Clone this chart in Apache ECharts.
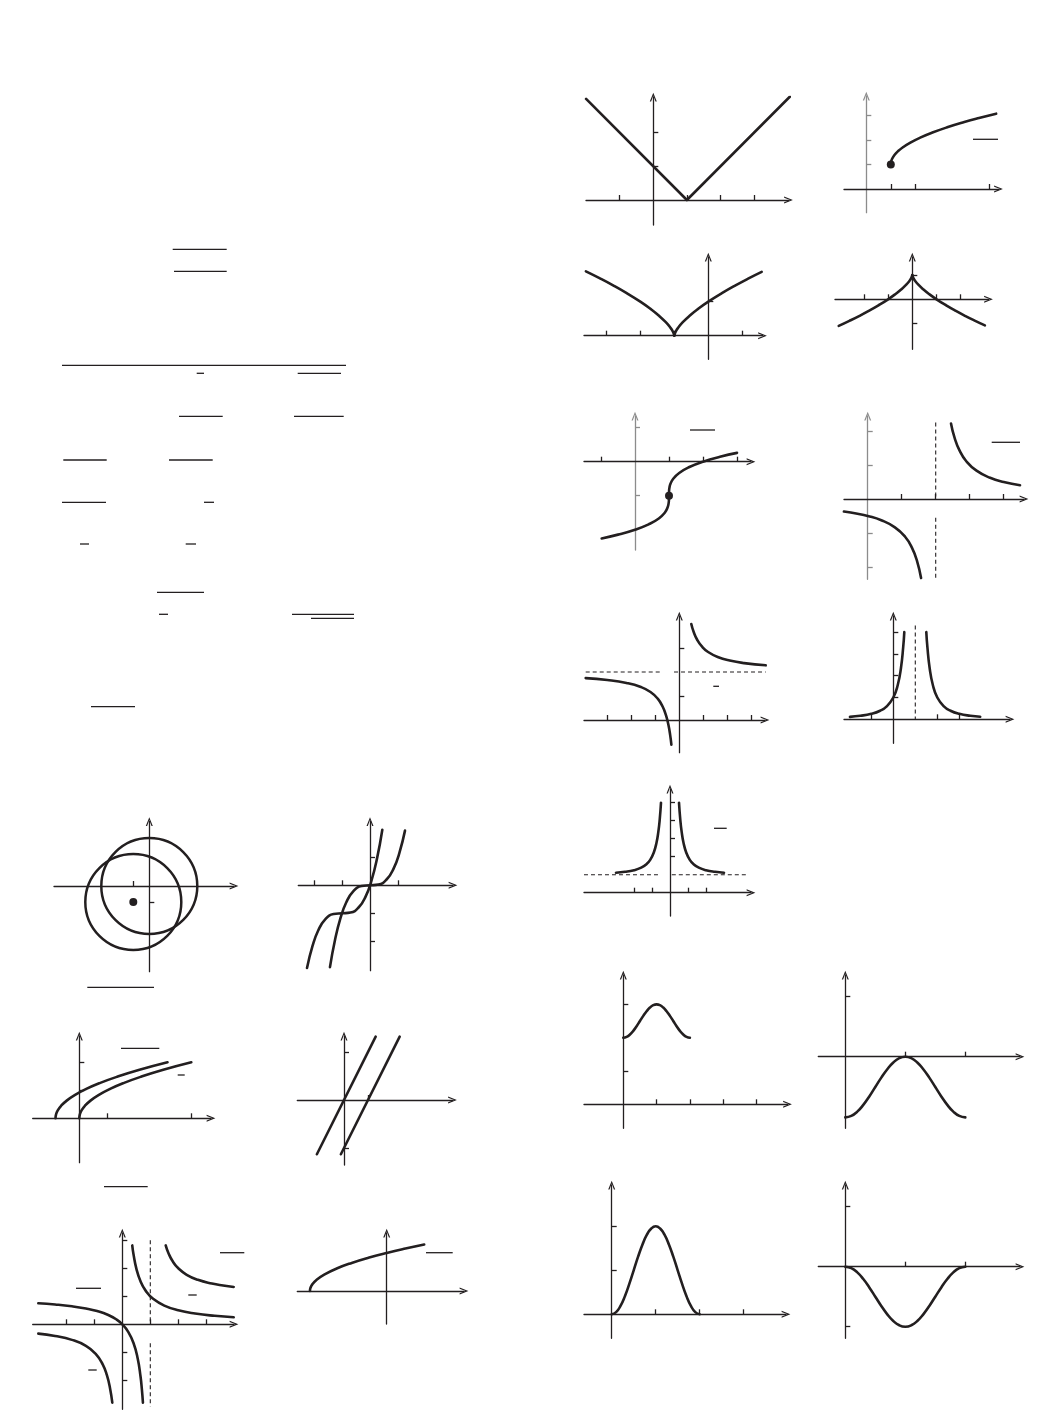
<!DOCTYPE html>
<html><head><meta charset="utf-8">
<script src="https://cdn.jsdelivr.net/npm/echarts@6/dist/echarts.min.js"></script>
<style>html,body{margin:0;padding:0;background:#fff}#c{width:1056px;height:1410px}</style>
</head><body><div id="c"></div>
<script>
// ---------- values ----------
// A: |x-1|
const vAbs = [[-2,3],[1,0],[4.07,3.07]];
// B: shifted square root with start dot
const sqrtShift = [[1,1],[1.01,1.1],[1.05,1.224],[1.15,1.387],[1.3,1.548],[1.5,1.707],[1.8,1.894],[2.2,2.095],[2.7,2.304],[3.3,2.517],[4,2.732],[4.6,2.897],[5.3,3.074]];
const dotB = [[1,1]];
// C: cusp at (-1,0)
const cuspLeft = [[-3.6,1.891],[-3.2,1.692],[-2.8,1.48],[-2.4,1.251],[-2,1],[-1.7,0.788],[-1.45,0.587],[-1.25,0.397],[-1.12,0.243],[-1.04,0.117],[-1,0]];
const cuspRight = [[-1,0],[-0.96,0.117],[-0.88,0.243],[-0.75,0.397],[-0.55,0.587],[-0.3,0.788],[0,1],[0.4,1.251],[0.8,1.48],[1.2,1.692],[1.57,1.876]];
// D: cusp peak at (0,1)
const peakLeft = [[-3.04,-1.099],[-2.6,-0.891],[-2.2,-0.692],[-1.8,-0.48],[-1.4,-0.251],[-1,0],[-0.7,0.212],[-0.45,0.413],[-0.25,0.603],[-0.12,0.757],[-0.04,0.883],[0,1]];
const peakRight = [[0,1],[0.04,0.883],[0.12,0.757],[0.25,0.603],[0.45,0.413],[0.7,0.212],[1,0],[1.4,-0.251],[1.8,-0.48],[2.2,-0.692],[2.6,-0.891],[3,-1.08]];
// E: cube root through (1,-1)
const cubeRoot = [[-0.98,-2.256],[-0.5,-2.145],[0,-2],[0.4,-1.843],[0.7,-1.669],[0.88,-1.493],[0.96,-1.342],[0.99,-1.215],[0.998,-1.126],[1,-1],[1.002,-0.874],[1.01,-0.785],[1.04,-0.658],[1.12,-0.507],[1.3,-0.331],[1.6,-0.157],[2,0],[2.5,0.145],[3,0.26]];
const dotE = [[1,-1]];
// F: hyperbola, vertical asymptote x=2
const hypFLeft = [[-0.7,-0.37],[-0.3,-0.435],[0,-0.5],[0.4,-0.625],[0.8,-0.833],[1.1,-1.111],[1.3,-1.429],[1.45,-1.818],[1.57,-2.326]];
const hypFRight = [[2.45,2.222],[2.55,1.818],[2.7,1.429],[2.9,1.111],[3.2,0.833],[3.6,0.625],[4,0.5],[4.48,0.403]];
const asymF = [[[2,2.25],[2,0]],[[2,-0.55],[2,-2.35]]];
// G: hyperbola, horizontal asymptote y=2
const hypGLeft = [[-3.9,1.744],[-3,1.667],[-2.2,1.545],[-1.6,1.375],[-1.2,1.167],[-0.9,0.889],[-0.7,0.571],[-0.55,0.182],[-0.45,-0.222],[-0.38,-0.632],[-0.33,-1.03]];
const hypGRight = [[0.5,4],[0.6,3.667],[0.75,3.333],[0.95,3.053],[1.2,2.833],[1.6,2.625],[2.1,2.476],[2.7,2.37],[3.6,2.278]];
const asymG = [[[-3.9,2],[-0.73,2]],[[-0.22,2],[3.6,2]]];
// H: inverse square about x=1
const invSqLeft = [[-1.97,0.113],[-1.5,0.16],[-1,0.25],[-0.6,0.391],[-0.3,0.592],[0,1],[0.2,1.563],[0.35,2.367],[0.45,3.306],[0.5,4]];
const invSqRight = [[1.5,4],[1.55,3.306],[1.65,2.367],[1.8,1.563],[2,1],[2.3,0.592],[2.6,0.391],[3,0.25],[3.5,0.16],[3.95,0.115]];
const asymH = [[[1,4.3],[1,0]]];
// I: inverse square shifted up, asymptote y=1
const bellLeft = [[-3,1.111],[-2.5,1.16],[-2,1.25],[-1.6,1.391],[-1.3,1.592],[-1.1,1.826],[-0.9,2.235],[-0.75,2.778],[-0.65,3.367],[-0.57,4.078],[-0.5,5]];
const bellRight = [[0.5,5],[0.57,4.078],[0.65,3.367],[0.75,2.778],[0.9,2.235],[1.1,1.826],[1.3,1.592],[1.6,1.391],[2,1.25],[2.5,1.16],[3,1.111]];
const asymI = [[[-4.78,1],[-0.5,1]],[[0.1,1],[4.35,1]]];
// J: two circles [cx, cy, r] and centre dot
const circles = [[0,0,3],[-1,-1,3]];
const dotJ = [[-1,-1]];
// K: two cubics
const cubeA = [[-1.43,-2.924],[-1.25,-1.953],[-1.05,-1.158],[-0.85,-0.614],[-0.6,-0.216],[-0.3,-0.027],[0,0],[0.3,0.027],[0.6,0.216],[0.85,0.614],[1.05,1.158],[1.25,1.953]];
const cubeB = [[-2.25,-2.953],[-2.05,-2.158],[-1.85,-1.614],[-1.6,-1.216],[-1.3,-1.027],[-1,-1],[-0.7,-0.973],[-0.4,-0.784],[-0.15,-0.386],[0.05,0.158],[0.25,0.953],[0.44,1.986]];
// L: two square roots
const rootA = [[0,0],[0.02,0.141],[0.08,0.283],[0.2,0.447],[0.4,0.632],[0.7,0.837],[1.1,1.049],[1.6,1.265],[2.2,1.483],[3,1.732],[4,2]];
const rootB = [[-0.85,0],[-0.83,0.141],[-0.77,0.283],[-0.65,0.447],[-0.45,0.632],[-0.15,0.837],[0.25,1.049],[0.75,1.265],[1.35,1.483],[2.15,1.732],[3.15,2]];
// M: two parallel lines
const lineA = [[-1.13,-2.26],[1.32,2.64]];
const lineB = [[-0.13,-2.26],[2.32,2.64]];
// N: reciprocal and ratio curves, asymptote x=1
const recipL = [[-3,-0.333],[-2.4,-0.417],[-1.8,-0.556],[-1.3,-0.769],[-0.95,-1.053],[-0.7,-1.429],[-0.55,-1.818],[-0.44,-2.273],[-0.357,-2.8]];
const recipR = [[0.355,2.817],[0.4,2.5],[0.5,2],[0.65,1.538],[0.85,1.176],[1.1,0.909],[1.5,0.667],[2,0.5],[2.6,0.385],[3.3,0.303],[3.98,0.251]];
const ratioL = [[-3,0.75],[-2.4,0.706],[-1.8,0.643],[-1.3,0.565],[-0.9,0.474],[-0.5,0.333],[-0.2,0.167],[0,0],[0.2,-0.25],[0.4,-0.667],[0.55,-1.222],[0.65,-1.857],[0.7,-2.333],[0.737,-2.8]];
const ratioR = [[1.55,2.818],[1.65,2.538],[1.8,2.25],[2,2],[2.3,1.769],[2.7,1.588],[3.2,1.455],[3.6,1.385],[3.98,1.335]];
const asymN = [[[1,3],[1,0]],[[1,-0.68],[1,-2.94]]];
// O: square root from the left
const rootO = [[-3.07,0],[-3.05,0.123],[-2.97,0.275],[-2.8,0.452],[-2.5,0.657],[-2,0.9],[-1.4,1.124],[-0.7,1.339],[0,1.524],[0.75,1.7],[1.5,1.86]];
// P-S: waves
const waveX = [0,0.1,0.2,0.3,0.4,0.5,0.6,0.7,0.8,0.9,1,1.1,1.2,1.3,1.4,1.5,1.6,1.7,1.8,1.9,2];
const waveP = [2,2.024,2.095,2.206,2.345,2.5,2.655,2.794,2.905,2.976,3,2.976,2.905,2.794,2.655,2.5,2.345,2.206,2.095,2.024,2];
const waveQ = [-1,-0.976,-0.905,-0.794,-0.655,-0.5,-0.345,-0.206,-0.095,-0.024,0,-0.024,-0.095,-0.206,-0.345,-0.5,-0.655,-0.794,-0.905,-0.976,-1];
const waveR = [0,0.049,0.191,0.412,0.691,1,1.309,1.588,1.809,1.951,2,1.951,1.809,1.588,1.309,1,0.691,0.412,0.191,0.049,0];
const waveS = [0,-0.024,-0.095,-0.206,-0.345,-0.5,-0.655,-0.794,-0.905,-0.976,-1,-0.976,-0.905,-0.794,-0.655,-0.5,-0.345,-0.206,-0.095,-0.024,0];

// tick positions per panel (A..S)
const xTicks = [[-1,1,2,3],[1,2,5],[-3,-2,-1,1],[-2,-1,1,2],[-1,1,2,3],[1,2,3,4],[-3,-2,-1,1,2,3],[-1,2,3],[-2,-1,1,2],[-1],[-2,-1,1],[1,4],[1],[-2,-1,1,2,3],[],[1,2,3,4],[1,2],[1,2,3],[1,2]];
const yTicks = [[1,2],[1,2,3],[1],[1,-1],[1,-1],[2,1,-1,-2],[1,3],[1,2,3,4],[2,3,4,5],[-1],[1,-1,-2],[1,2],[2,-2],[3,2,1,-1,-2],[],[1,3],[1],[1,2],[1,-1]];

// ---------- layout (pixels): originX, originY, unitX, unitY, left, right, bottom, top ----------
const layout = [
 [653.3,200,33.6,33.7,586,788.5,225,97],
 [866.3,189,24.5,24.5,844,998.5,212.7,96],
 [708.3,335.7,34,34,584,762.5,359.3,257],
 [912.3,299.3,24.2,24.2,835,988.5,349.3,257],
 [635,461.7,34,34,584,751,550,416],
 [867.7,499,34,34,844,1024,579.3,416],
 [679.3,720,24,24,584,765,752.7,616],
 [893.3,719.3,22,21.8,844,1010,743.3,616],
 [670,892.7,18,18,584,751,916,789],
 [149.3,886,16,16,54,234,971.7,821.5],
 [370,885.3,28,28,298.3,453,970.7,821.5],
 [79.3,1118.3,28,28,32.7,211,1162.7,1036],
 [344,1100,24,24,297.3,452.5,1165,1036],
 [122.3,1324.3,28,28,32.7,234,1409.3,1233],
 [386.7,1291,25,25,297.3,464,1324,1233],
 [623.3,1104.3,33.3,33.3,584,787.5,1128.3,975],
 [845.3,1056.7,60,60.7,818.3,1020,1128.3,975],
 [611.7,1314.3,44,44,584,786,1338.3,1185],
 [845.3,1266.7,60,60,818.3,1020,1338.3,1185]
];
const grayY = [1,4,5];
// rules left from stripped formulas: x1, x2, y
const rules = [
 [172.7,226.7,249.3],[174,226.7,271.3],[62,346,365.3],[196.7,204,373.3],[297.7,341,373.3],
 [179,222.7,416.3],[294,343.7,416.3],[63.3,106.7,460],[169,212.7,460],[62,106,502.3],[204,214,502.3],
 [80,89,544],[185.7,196,544],[157,204,592.3],[159,168,614.3],[292,354,614.3],[311,354,618.3],[91,135,706.7],
 [973,998,139.3],[690,715,430],[991.7,1020,442.3],[713.3,719,686.3],[714,726.7,828.3],
 [87.3,154,987.3],[121,159.3,1048.3],[177.7,184.7,1075],
 [104,147.7,1186.7],[76,101,1288.3],[88.3,96.7,1370],[188.3,196.7,1295],[220,244.3,1252.7],[426,452.7,1252.7]
];

const INK = '#231f20';
const GRAY = '#8c8c8c';
const arrowPath = 'path://M0,10 L4,0 L8,10 L6.5,10 L4,3.4 L1.5,10 Z';

const grids = [], xAxes = [], yAxes = [];
layout.forEach((L, i) => {
  const [ox, oy, ux, uy, left, right, bottom, top] = L;
  grids.push({left, top, width: right - left, height: bottom - top, containLabel: false, outerBoundsMode: 'none'});
  const mk = (dim, min, max, ticks, color) => ({
    gridIndex: i, type: 'value', min, max, position: dim === 'x' ? 'bottom' : 'left',
    axisLine: {show: true, onZero: true, symbol: ['none', arrowPath], symbolSize: [7, 9], lineStyle: {color, width: 1.3}},
    axisTick: {show: ticks.length > 0, inside: true, length: 5, customValues: ticks, lineStyle: {color, width: 1.3}},
    axisLabel: {show: false}, splitLine: {show: false}, splitArea: {show: false}
  });
  xAxes.push(mk('x', (left - ox) / ux, (right - ox) / ux, xTicks[i], INK));
  yAxes.push(mk('y', (oy - bottom) / uy, (oy - top) / uy, yTicks[i], grayY.includes(i) ? GRAY : INK));
});

const series = [];
function curve(i, data, smooth) {
  series.push({type: 'line', xAxisIndex: i, yAxisIndex: i, data, symbol: 'none', showSymbol: false,
    smooth: smooth ? 0.5 : false,
    lineStyle: {color: INK, width: 2.6, cap: 'round', join: 'round'}, silent: true, z: 3});
}
function dashed(i, segs) {
  segs.forEach(seg => series.push({type: 'line', xAxisIndex: i, yAxisIndex: i, data: seg, symbol: 'none',
    lineStyle: {color: INK, width: 1.1, type: [4, 3]}, silent: true, z: 2}));
}
function dots(i, data) {
  series.push({type: 'scatter', xAxisIndex: i, yAxisIndex: i, data, symbolSize: 8,
    itemStyle: {color: INK, opacity: 1}, silent: true, z: 5});
}
const zip = ys => waveX.map((x, k) => [x, ys[k]]);

curve(0, vAbs, false);
curve(1, sqrtShift, true); dots(1, dotB);
curve(2, cuspLeft, true); curve(2, cuspRight, true);
curve(3, peakLeft, true); curve(3, peakRight, true);
curve(4, cubeRoot, true); dots(4, dotE);
curve(5, hypFLeft, true); curve(5, hypFRight, true); dashed(5, asymF);
curve(6, hypGLeft, true); curve(6, hypGRight, true); dashed(6, asymG);
curve(7, invSqLeft, true); curve(7, invSqRight, true); dashed(7, asymH);
curve(8, bellLeft, true); curve(8, bellRight, true); dashed(8, asymI);
series.push({type: 'custom', xAxisIndex: 9, yAxisIndex: 9, data: circles, silent: true, z: 3,
  renderItem: (params, api) => {
    const c = api.coord([api.value(0), api.value(1)]);
    const s = api.size([api.value(2), api.value(2)]);
    return {type: 'circle', shape: {cx: c[0], cy: c[1], r: s[0]}, style: {fill: 'none', stroke: INK, lineWidth: 2.5}};
  }});
dots(9, dotJ);
curve(10, cubeA, true); curve(10, cubeB, true);
curve(11, rootA, true); curve(11, rootB, true);
curve(12, lineA, false); curve(12, lineB, false);
curve(13, recipL, true); curve(13, recipR, true); curve(13, ratioL, true); curve(13, ratioR, true); dashed(13, asymN);
curve(14, rootO, true);
curve(15, zip(waveP), true);
curve(16, zip(waveQ), true);
curve(17, zip(waveR), true);
curve(18, zip(waveS), true);

const graphic = rules.map(r => ({type: 'line', silent: true,
  shape: {x1: r[0], y1: r[2], x2: r[1], y2: r[2]}, style: {stroke: INK, lineWidth: 1.3}}));

const chart = echarts.init(document.getElementById('c'), null, {renderer: 'canvas'});
chart.setOption({animation: false, backgroundColor: '#fff', grid: grids, xAxis: xAxes, yAxis: yAxes, series, graphic});
</script></body></html>
